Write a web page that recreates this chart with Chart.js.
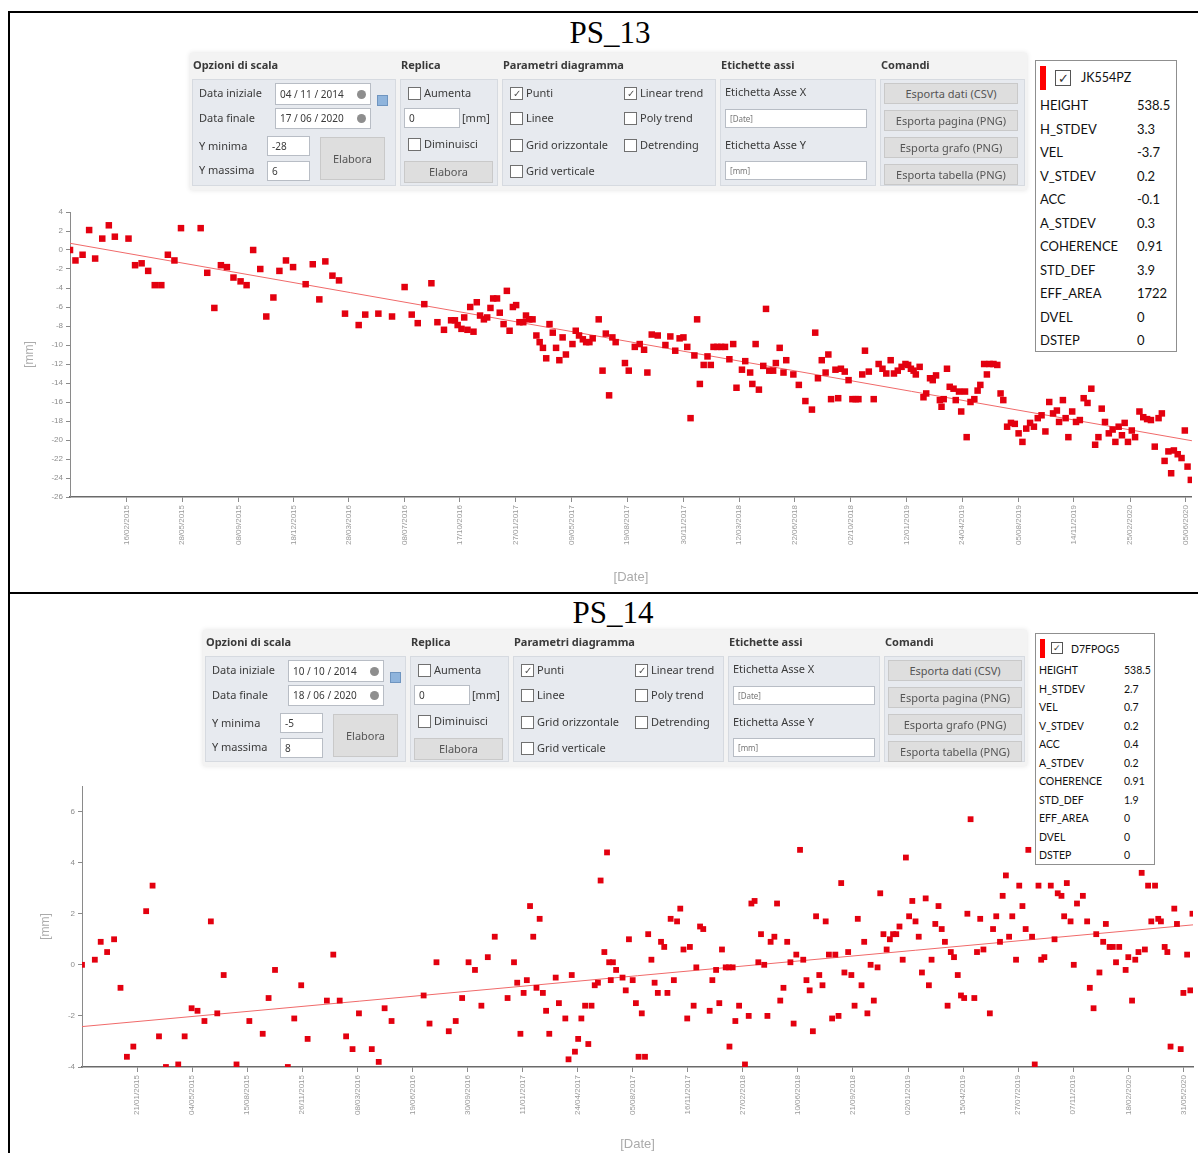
<!DOCTYPE html>
<html>
<head>
<meta charset="utf-8">
<script src="https://cdn.jsdelivr.net/npm/chart.js@4.4.1/dist/chart.umd.min.js"></script>
<style>
  body { margin:0; width:1198px; height:1153px; background:#fff; position:relative; overflow:hidden; }
  .frame { position:absolute; background:#000; }
  .ps-title { position:absolute; font-family:"Liberation Serif", "Times New Roman", serif; font-size:31px; line-height:32px; transform:translateX(-50%); }
  .abs { position:absolute; white-space:nowrap; }
  .panel { position:absolute; background:#f3f3f3; box-shadow:0 0 5px rgba(0,0,0,0.12); font-family:"Noto Sans", sans-serif; font-size:11px; color:#3a3a3a; }
  .box { background:#e7eaef; border:1px solid #d6dae0; box-sizing:border-box; }
  .inp { background:#fff; border:1px solid #b8bdc5; box-sizing:border-box; font-size:10px; padding-left:4px; }
  .btn { background:#dedede; border:1px solid #c9c9c9; box-sizing:border-box; text-align:center; color:#555; }
  .cb { width:11px; height:11px; border:1px solid #707070; background:#fff; font-size:10px; line-height:11px; text-align:center; color:#555; }
  .clock { display:inline-block; width:9px; height:9px; border-radius:50%; background:#8e8e8e; position:absolute; right:4px; top:50%; margin-top:-4.5px; }
  .info { position:absolute; border:1px solid #8f8f8f; box-sizing:border-box; background:#fff; font-family:Lato, "Noto Sans", sans-serif; color:#111; }
  .infocb { border:1px solid #555; box-sizing:border-box; text-align:center; color:#333; }
  .chart-box { position:absolute; }
</style>
</head>
<body>
<div class="frame" style="left:8px;top:11px;width:1190px;height:2px;"></div>
<div class="frame" style="left:8px;top:11px;width:2px;height:1142px;"></div>
<div class="frame" style="left:8px;top:592px;width:1190px;height:2px;"></div>

<div class="ps-title" style="left:610px;top:17px;">PS_13</div>
<div class="ps-title" style="left:613px;top:597px;">PS_14</div>

<div class="chart-box" style="left:10px;top:195px;width:1188px;height:397px;"><canvas id="chart13"></canvas></div>
<div class="chart-box" style="left:10px;top:770px;width:1188px;height:383px;"><canvas id="chart14"></canvas></div>

<script>
// ---- PS_13 ----
const ps13Start = '04/11/2014';
const ps13End = '17/06/2020';
const ps13Day = [0,10,23,35,46,59,71,82,107,119,131,143,155,167,179,191,203,239,251,264,276,287,299,312,323,335,348,359,372,383,395,408,431,444,456,467,480,492,503,528,540,564,589,612,625,636,648,661,672,684,697,704,709,716,721,727,732,738,744,750,757,763,769,774,781,786,793,799,804,810,816,822,829,834,840,846,853,859,865,871,877,883,889,895,901,907,919,925,931,938,944,950,956,967,974,980,986,992,998,
  1015,1022,1033,1042,1050,1056,1064,1075,1089,1098,1107,1115,1122,1129,1135,1142,1147,1152,1159,1166,1172,1177,1184,1191,1198,1206,1213,1219,1229,1235,1244,1248,1254,1260,1268,1273,1279,1286,1291,1298,1305,1310,1323,1333,1345,1357,1363,1368,1375,1382,1387,1392,1400,1405,1410,1417,1424,1431,1437,1442,1449,1454,1461,1470,1479,1486,1493,1501,1507,1514,1521,1528,1533,1538,1543,1547,1554,1561,1566,1573,1578,1584,1591,1594,1598,1604,1609,1616,1620,1626,1630,1637,1640,1647,1654,1660,1665,1672,1677,1682,1689,1696,1702,1707,1714,1721,1728,1735,1742,1749,1756,1763,1770,1777,1784,1791,1798,1805,1809,1816,1821,1826,1833,1840,1847,1854,1861,1868,1875,1881,1887,1893,1900,1907,1912,1918,1924,1929,1935,1942,1948,1956,1963,1970,1977,1984,1991,1997,2002,2009,2014,2019,2026,2033,2039,2044,2050];
const ps13Mm = [0.0,-1.1,-0.5,2.1,-0.9,1.2,2.6,1.4,1.2,-1.6,-1.4,-2.2,-3.7,-3.7,-0.5,-1.1,2.3,2.3,-2.4,-6.1,-1.6,-1.8,-2.9,-3.3,-3.7,0.0,-2.0,-7.0,-5.0,-2.2,-1.1,-1.8,-3.6,-1.5,-5.2,-1.2,-2.7,-3.2,-6.7,-7.9,-6.8,-6.7,-7.0,-3.9,-6.8,-7.7,-5.7,-3.5,-7.6,-8.4,-7.4,-7.4,-7.9,-8.3,-7.1,-8.4,-6.0,-8.6,-5.5,-6.9,-7.3,-7.1,-6.1,-5.1,-5.1,-6.6,-7.8,-4.3,-8.5,-6.0,-5.8,-7.6,-7.6,-6.9,-7.3,-7.3,-9.0,-9.7,-10.3,-11.4,-7.8,-8.7,-10.3,-11.6,-9.2,-11.0,-9.9,-8.5,-9.0,-9.4,-9.7,-9.7,-9.3,-7.3,-12.7,-8.8,-15.3,-9.2,-9.7,
  -11.9,-12.7,-10.2,-9.9,-10.5,-12.9,-8.9,-9.0,-10.0,-9.1,-10.6,-9.3,-9.2,-10.2,-17.7,-11.1,-7.3,-14.1,-12.1,-11.2,-12.1,-10.2,-10.2,-10.2,-10.2,-11.5,-9.9,-14.5,-12.6,-11.7,-12.9,-14.1,-9.9,-14.7,-12.2,-6.2,-12.7,-12.7,-11.9,-10.3,-12.9,-11.6,-13.1,-14.2,-15.9,-16.8,-8.7,-13.5,-11.6,-12.9,-11.0,-15.7,-12.6,-15.6,-12.5,-12.8,-13.7,-15.7,-15.7,-15.7,-13.1,-10.6,-12.8,-15.7,-12.0,-12.5,-13.0,-11.6,-13.0,-12.7,-12.3,-12.0,-12.1,-12.5,-12.7,-13.1,-12.3,-15.5,-15.1,-13.5,-13.7,-13.2,-15.8,-16.5,-15.7,-12.5,-14.4,-14.6,-15.8,-14.9,-17.0,-14.9,-19.7,-16.0,-15.7,-14.8,-14.2,-12.0,-13.1,-12.0,-12.0,-12.1,-15.1,-15.8,-18.6,-18.2,-18.3,-19.3,-20.2,-18.8,-18.2,-18.6,-17.7,-17.4,-19.1,-16.0,-17.2,-16.9,-18.1,-15.8,-17.7,-19.7,-17.0,-18.1,-17.9,-15.6,-16.1,-14.6,-20.5,-19.7,-16.7,-18.1,-19.3,-18.9,-20.2,-18.6,-19.5,-18.2,-20.2,-19.0,-19.7,-17.0,-17.6,-17.8,-17.9,-20.7,-17.7,-17.2,-22.2,-21.2,-23.5,-21.1,-21.5,-21.9,-19.0,-22.8,-24.2];
const ps13Ticks = ['16/02/2015','28/05/2015','08/09/2015','18/12/2015','28/03/2016','08/07/2016','17/10/2016','27/01/2017','09/05/2017','19/08/2017','30/11/2017','12/03/2018','22/06/2018','02/10/2018','12/01/2019','24/04/2019','05/08/2019','14/11/2019','25/02/2020','05/06/2020'];

// ---- PS_14 ----
const ps14Start = '10/10/2014';
const ps14End = '18/06/2020';
const ps14Day = [0,24,35,47,60,72,84,96,120,132,144,157,180,192,205,216,229,241,253,265,289,313,338,349,361,385,397,410,422,458,470,482,494,506,518,542,555,566,579,639,650,663,686,699,711,723,735,747,759,772,796,808,814,820,826,832,838,844,850,856,862,868,874,886,892,904,910,916,922,928,934,941,947,953,959,965,970,977,982,986,989,
  993,999,1011,1017,1023,1030,1036,1041,1047,1053,1059,1065,1071,1077,1083,1089,1095,1101,1107,1113,1119,1125,1132,1137,1144,1149,1156,1162,1174,1179,1186,1192,1197,1204,1210,1211,1217,1222,1229,1240,1247,1252,1258,1265,1270,1276,1282,1288,1295,1300,1306,1312,1319,1325,1331,1336,1343,1349,1355,1361,1367,1373,1379,1385,1391,1397,1403,1409,1415,1420,1426,1433,1439,1445,1451,1458,1463,1469,1475,1481,1488,1493,1499,1505,1511,1517,1523,1529,1535,1541,1547,1553,1559,1565,1571,1578,1584,1589,1596,1602,1608,1614,1619,1625,1631,1638,1644,1650,1656,1662,1669,1674,1680,1686,1698,1704,1710,1717,1722,1728,1734,1740,1747,1753,1759,1765,1770,1777,1782,1789,1794,1800,1812,1819,1825,1832,1837,1842,1849,1855,1861,1872,1880,1885,1892,1897,1903,1910,1915,1922,1928,1934,1940,1952,1957,1964,1970,1976,1982,1988,1994,2000,2007,2013,2018,2025,2030,2036,2043,2048,2055,2060,2067,2073,2077];
const ps14Mm = [0.0,0.2,0.9,0.5,1.0,-0.9,-3.6,-3.2,2.1,3.1,-2.8,-4.0,-3.9,-2.8,-1.7,-1.8,-2.2,1.7,-1.9,-0.4,-3.9,-2.2,-2.7,-1.3,-0.2,-4.0,-2.1,-0.8,-2.9,-1.4,0.4,-1.4,-2.8,-3.3,-1.9,-3.3,-3.8,-1.7,-2.2,-1.2,-2.3,0.1,-2.6,-2.2,-1.3,0.1,-0.2,-1.6,0.3,1.1,-1.3,0.1,-0.7,-2.7,-1.1,-0.6,2.3,1.1,-0.9,1.8,-1.1,-1.8,-2.7,-0.5,-1.5,-2.1,-3.7,-0.4,-3.4,-2.9,-2.1,-1.6,-3.1,-1.6,-0.8,-0.7,3.3,0.5,4.4,0.1,-0.6,
  0.1,-0.2,-0.5,-1.0,1.0,-0.6,-1.5,-3.6,-1.9,-3.6,1.2,0.2,-0.7,-1.1,0.9,0.7,-1.1,1.8,-0.6,1.7,2.2,0.6,-2.1,0.7,-1.6,-0.1,1.5,1.4,-1.8,-0.6,-0.2,-1.5,0.6,-0.1,-0.1,-3.2,-0.1,-2.2,-1.6,-3.9,-2.0,2.4,2.5,0.1,1.2,0.0,-2.0,0.9,1.1,2.4,-1.4,-0.9,0.9,0.1,-2.3,0.4,4.5,0.2,-0.6,-1.0,-2.6,1.9,-0.4,-0.8,1.7,0.4,-2.1,0.4,-2.0,3.2,-0.3,0.5,-0.4,-1.6,1.8,-0.8,0.9,-1.9,0.0,-1.4,-0.1,2.8,1.2,0.6,1.0,1.2,1.2,1.5,0.2,4.2,1.9,2.5,1.7,1.1,-0.3,2.6,-0.8,0.2,1.6,2.3,1.4,0.9,-1.6,0.5,0.3,-0.4,-1.2,-1.3,2.0,5.7,-1.3,0.5,1.8,0.6,-1.9,1.4,1.9,0.9,2.7,3.5,1.1,1.9,0.2,3.1,2.3,1.4,4.5,1.1,-3.9,3.1,0.2,0.3,3.1,1.0,2.8,2.7,1.9,3.2,1.7,0.0,2.4,2.7,1.7,-0.9,-1.7,1.2,-0.3,0.9,1.6,0.7,0.7,0.1,0.7,-0.2,0.3,-1.4,0.2,0.5,3.6,0.6,3.1,1.7,3.1,1.8,1.7,0.7,0.5,-3.2,2.2,1.6,-3.3,-1.1,0.4,-1.0,2.0];
const ps14Ticks = ['21/01/2015','04/05/2015','15/08/2015','26/11/2015','08/03/2016','19/06/2016','30/09/2016','11/01/2017','24/04/2017','05/08/2017','16/11/2017','27/02/2018','10/06/2018','21/09/2018','02/01/2019','15/04/2019','27/07/2019','07/11/2019','18/02/2020','31/05/2020'];

// ---- side tables ----
const infoKeys = ['HEIGHT','H_STDEV','VEL','V_STDEV','ACC','A_STDEV','COHERENCE','STD_DEF','EFF_AREA','DVEL','DSTEP'];
const ps13Info = ['538.5','3.3','-3.7','0.2','-0.1','0.3','0.91','3.9','1722','0','0'];
const ps14Info = ['538.5','2.7','0.7','0.2','0.4','0.2','0.91','1.9','0','0','0'];

function el(parent, css, text, cls) {
  const d = document.createElement('div');
  if (cls) d.className = cls;
  d.style.cssText = css;
  if (text !== undefined) d.textContent = text;
  parent.appendChild(d);
  return d;
}
function at(x, y, w, h) {
  return `left:${x}px;top:${y}px;` + (w ? `width:${w}px;` : '') + (h ? `height:${h}px;` : '');
}

// option panel above each plot
function buildPanel(o) {
  const p = el(document.body, at(o.left, o.top, o.width, o.height), undefined, 'panel');
  const txt = (x, cy, s, extra) => el(p, at(x, cy - 8) + 'line-height:16px;' + (extra || ''), s, 'abs');
  const input = (x, y, w, h, s, extra) => el(p, at(x, y, w, h) + `line-height:${h - 2}px;` + (extra || ''), s, 'abs inp');
  const btn = (x, y, w, h, s) => el(p, at(x, y, w, h) + `line-height:${h - 2}px;`, s, 'abs btn');
  const check = (x, cy, s, on) => {
    el(p, at(x, cy - 6), on ? '✓' : '', 'abs cb');
    txt(x + 16, cy, s);
  };
  const heads = ['Opzioni di scala', 'Replica', 'Parametri diagramma', 'Etichette assi', 'Comandi'];
  const cx = o.colX;
  cx.forEach((x, i) => {
    txt(x + 3, 12, heads[i], 'font-weight:bold;');
    const w = (i < 4 ? cx[i + 1] : o.width) - x - 4;
    el(p, at(x + 2, 26, w, o.height - 30), undefined, 'abs box');
  });
  const [c1, c2, c3, c4, c5] = cx;

  txt(c1 + 9, 40, 'Data iniziale');
  el(input(c1 + 85, 30, 96, 22, o.dates[0]), '', undefined, 'clock');
  txt(c1 + 9, 65, 'Data finale');
  el(input(c1 + 85, 55, 96, 21, o.dates[1]), '', undefined, 'clock');
  el(p, at(c1 + 187, 42, 9, 9) + 'background:#8fb4dc;border:1px solid #6f95c0;', undefined, 'abs');
  txt(c1 + 9, 93, 'Y minima');
  input(c1 + 77, 83, 43, 20, o.ymin);
  txt(c1 + 9, 117, 'Y massima');
  input(c1 + 77, 108, 43, 20, o.ymax);
  btn(c1 + 130, 84, 65, 43, 'Elabora');

  check(c2 + 10, 40, 'Aumenta');
  input(c2 + 6, 55, 56, 20, '0');
  txt(c2 + 64, 65, '[mm]');
  check(c2 + 10, 91, 'Diminuisci');
  btn(c2 + 6, 108, 89, 22, 'Elabora');

  check(c3 + 10, 40, 'Punti', true);
  check(c3 + 124, 40, 'Linear trend', true);
  check(c3 + 10, 65, 'Linee');
  check(c3 + 124, 65, 'Poly trend');
  check(c3 + 10, 92, 'Grid orizzontale');
  check(c3 + 124, 92, 'Detrending');
  check(c3 + 10, 118, 'Grid verticale');

  txt(c4 + 7, 39, 'Etichetta Asse X');
  input(c4 + 7, 56, 142, 19, '[Date]', 'font-size:8px;color:#777;');
  txt(c4 + 7, 92, 'Etichetta Asse Y');
  input(c4 + 7, 108, 142, 19, '[mm]', 'font-size:8px;color:#777;');

  ['Esporta dati (CSV)', 'Esporta pagina (PNG)', 'Esporta grafo (PNG)', 'Esporta tabella (PNG)']
    .forEach((s, i) => btn(c5 + 6, 30 + i * 27, 134, 21, s));
}

// point attribute table at the right
function buildInfo(o) {
  const b = el(document.body, at(o.left, o.top, o.width, o.height) + `font-size:${o.fs}px;`, undefined, 'info');
  el(b, at(4, 5, o.barW, o.barH) + 'background:#ff0000;', undefined, 'abs');
  el(b, at(o.cbX, o.cbY, o.cbS, o.cbS) + `font-size:${o.cbS - 3}px;line-height:${o.cbS - 2}px;`, '✓', 'abs infocb');
  el(b, at(o.nameX, o.nameY - 10) + `line-height:20px;font-size:${o.nameFs}px;`, o.id, 'abs');
  infoKeys.forEach((k, i) => {
    const cy = o.rowTop + i * o.rowStep;
    el(b, at(o.keyX, cy - 10) + 'line-height:20px;', k, 'abs');
    el(b, at(o.valX, cy - 10) + 'line-height:20px;', o.values[i], 'abs');
  });
}

function toUtc(s) {
  const [d, m, y] = s.split('/').map(Number);
  return Date.UTC(y, m - 1, d);
}
function dayOffset(from, s) {
  return Math.round((toUtc(s) - toUtc(from)) / 86400000);
}

Chart.defaults.font.family = '"Liberation Sans", Arial, sans-serif';

function makeChart(id, o) {
  const pts = o.days.map((d, i) => ({ x: d, y: o.mm[i] }));
  const span = dayOffset(o.start, o.end);

  // linear trend: slope from the VEL value (mm/year), passing through the data centroid
  const n = pts.length;
  const mx = pts.reduce((s, p) => s + p.x, 0) / n;
  const my = pts.reduce((s, p) => s + p.y, 0) / n;
  const slope = o.vel / 365.25;
  const trend = [0, span].map(x => ({ x: x, y: my + slope * (x - mx) }));

  const tickDays = o.ticks.map(s => dayOffset(o.start, s));

  new Chart(document.getElementById(id), {
    type: 'scatter',
    data: {
      datasets: [
        { data: pts, pointStyle: 'rect', pointRadius: o.radius, backgroundColor: '#e3000f', borderColor: '#e3000f', borderWidth: 0 },
        { type: 'line', data: trend, borderColor: '#f06a6a', borderWidth: 1, pointRadius: 0, fill: false }
      ]
    },
    options: {
      responsive: true,
      maintainAspectRatio: false,
      animation: false,
      layout: { padding: o.pad },
      plugins: { legend: { display: false }, tooltip: { enabled: false } },
      scales: {
        x: {
          type: 'linear', min: 0, max: span,
          afterBuildTicks: s => { s.ticks = tickDays.map(v => ({ value: v })); },
          afterFit: s => { s.height = o.xh; },
          ticks: { callback: (v, i) => o.ticks[i], autoSkip: false, minRotation: 90, maxRotation: 90, color: '#9a9a9a', font: { size: 8 }, padding: 3 },
          grid: { drawOnChartArea: false, color: '#8a8a8a', tickLength: 5 },
          border: { color: '#6a6a6a', width: 1.5 },
          title: { display: true, text: '[Date]', color: '#ababab', font: { size: 13 }, padding: { top: 2, bottom: o.xtPad } }
        },
        y: {
          min: o.ymin, max: o.ymax,
          afterFit: s => { s.width = o.yw; },
          ticks: { stepSize: 2, includeBounds: false, color: '#8c8c8c', font: { size: 8 }, padding: 3 },
          grid: { drawOnChartArea: false, color: '#8a8a8a', tickLength: 4 },
          border: { color: '#8a8a8a', width: 1 },
          title: { display: true, text: '[mm]', color: '#ababab', font: { size: 12 } }
        }
      }
    }
  });
}

buildPanel({ left: 190, top: 53, width: 837, height: 137, colX: [0, 208, 310, 528, 688],
  dates: ['04 / 11 / 2014', '17 / 06 / 2020'], ymin: '-28', ymax: '6' });
buildPanel({ left: 203, top: 630, width: 824, height: 136, colX: [0, 205, 308, 523, 679],
  dates: ['10 / 10 / 2014', '18 / 06 / 2020'], ymin: '-5', ymax: '8' });

buildInfo({ left: 1035, top: 60, width: 142, height: 292, fs: 13, id: 'JK554PZ', nameFs: 12.5,
  barW: 6, barH: 24, cbX: 19, cbY: 9, cbS: 16, nameX: 45, nameY: 17,
  rowTop: 44, rowStep: 23.5, keyX: 4, valX: 101, values: ps13Info });
buildInfo({ left: 1035, top: 633, width: 120, height: 232, fs: 10.5, id: 'D7FPOG5', nameFs: 10.5,
  barW: 5, barH: 19, cbX: 15, cbY: 8, cbS: 12, nameX: 35, nameY: 15,
  rowTop: 36, rowStep: 18.5, keyX: 3, valX: 88, values: ps14Info });

makeChart('chart13', { start: ps13Start, end: ps13End, days: ps13Day, mm: ps13Mm, ticks: ps13Ticks, vel: Number(ps13Info[2]),
  ymin: -26, ymax: 4, radius: 4.6, pad: { left: 8, top: 17, right: 6, bottom: 0 }, yw: 52, xh: 95, xtPad: 7 });
makeChart('chart14', { start: ps14Start, end: ps14End, days: ps14Day, mm: ps14Mm, ticks: ps14Ticks, vel: Number(ps14Info[2]),
  ymin: -4, ymax: 7, radius: 4.1, pad: { left: 24, top: 16, right: 5, bottom: 0 }, yw: 48, xh: 86, xtPad: 1 });
</script>
</body>
</html>
